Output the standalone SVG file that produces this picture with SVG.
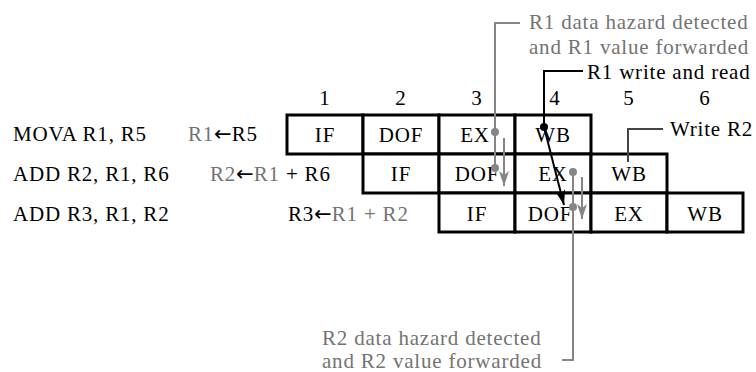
<svg xmlns="http://www.w3.org/2000/svg" width="756" height="372" viewBox="0 0 756 372">
<style>
text{font-family:"Liberation Serif",Tinos,"Times New Roman",Times,serif;font-size:21px;letter-spacing:0.8px;fill:#000}
.g{fill:#737373}
.ar{font-family:"DejaVu Sans",sans-serif;font-size:21px;letter-spacing:0}
.mid{text-anchor:middle}
.box{fill:#fff;stroke:#000;stroke-width:3}
.gl{stroke:#858585;stroke-width:2;fill:none}
.bl{stroke:#000;stroke-width:2;fill:none}
.gd{fill:#858585}
</style>
<defs>
<marker id="ga" markerUnits="userSpaceOnUse" markerWidth="16" markerHeight="12" refX="15" refY="5" orient="auto" viewBox="0 0 16 10">
<path d="M0,0 L15,5 L0,10 L4,5 Z" fill="#858585"/>
</marker>
<marker id="ba" markerUnits="userSpaceOnUse" markerWidth="16" markerHeight="12" refX="15" refY="5" orient="auto" viewBox="0 0 16 10">
<path d="M0,0 L15,5 L0,10 L4,5 Z" fill="#000"/>
</marker>
</defs>

<g id="cycle-numbers">
<text x="325" y="105" class="mid">1</text>
<text x="401" y="105" class="mid">2</text>
<text x="477" y="105" class="mid">3</text>
<text x="555" y="105" class="mid">4</text>
<text x="629" y="105" class="mid">5</text>
<text x="705" y="105" class="mid">6</text>
</g>

<g id="instr-labels">
<text x="13" y="141">MOVA R1, R5</text>
<text x="13" y="181">ADD R2, R1, R6</text>
<text x="13" y="221">ADD R3, R1, R2</text>
<text x="188" y="141"><tspan class="g">R1</tspan><tspan class="ar">←</tspan>R5</text>
<text x="210" y="181"><tspan class="g">R2</tspan><tspan class="ar">←</tspan><tspan class="g">R1</tspan> + R6</text>
<text x="288" y="221">R3<tspan class="ar">←</tspan><tspan class="g">R1 + R2</tspan></text>
</g>

<g id="row1">
<rect class="box" x="287" y="115" width="76" height="39"/>
<rect class="box" x="363" y="115" width="76" height="39"/>
<rect class="box" x="439" y="115" width="76" height="39"/>
<rect class="box" x="515" y="115" width="76" height="39"/>
<text x="325" y="142" class="mid">IF</text>
<text x="401" y="142" class="mid">DOF</text>
<text x="475" y="142" class="mid">EX</text>
<text x="553" y="142" class="mid">WB</text>
</g>
<g id="row2">
<rect class="box" x="363" y="154" width="76" height="39"/>
<rect class="box" x="439" y="154" width="76" height="39"/>
<rect class="box" x="515" y="154" width="76" height="39"/>
<rect class="box" x="591" y="154" width="76" height="39"/>
<text x="401" y="181" class="mid">IF</text>
<text x="477" y="181" class="mid">DOF</text>
<text x="553" y="181" class="mid">EX</text>
<text x="629" y="181" class="mid">WB</text>
</g>
<g id="row3">
<rect class="box" x="439" y="193" width="76" height="39"/>
<rect class="box" x="515" y="193" width="76" height="39"/>
<rect class="box" x="591" y="193" width="76" height="39"/>
<rect class="box" x="667" y="193" width="76" height="39"/>
<text x="477" y="221" class="mid">IF</text>
<text x="550" y="221" class="mid">DOF</text>
<text x="629" y="221" class="mid">EX</text>
<text x="705" y="221" class="mid">WB</text>
</g>

<g id="annotations">
<text x="529" y="29" class="g">R1 data hazard detected</text>
<text x="529" y="54" class="g">and R1 value forwarded</text>
<text x="587" y="79">R1 write and read</text>
<text x="670" y="136">Write R2</text>
<text x="322" y="345" class="g">R2 data hazard detected</text>
<text x="322" y="368" class="g">and R2 value forwarded</text>
</g>

<g id="connectors">
<polyline class="gl" points="520,23 495,23 495,168"/>
<circle class="gd" cx="495" cy="132" r="4"/>
<circle class="gd" cx="495" cy="168" r="4"/>
<line class="gl" x1="504" y1="138" x2="504" y2="186" marker-end="url(#ga)"/>
<polyline class="bl" points="583,71 544,71 544,127"/>
<circle cx="544" cy="127" r="4" fill="#000"/>
<line class="bl" x1="544" y1="127" x2="564" y2="205" marker-end="url(#ba)"/>
<polyline class="bl" points="663,129 628,129 628,162" style="stroke:#444"/>
<polyline class="gl" points="573,172 573,360 562,360"/>
<circle class="gd" cx="573" cy="172" r="4"/>
<circle class="gd" cx="573" cy="207" r="4"/>
<line class="gl" x1="582" y1="177" x2="582" y2="219" marker-end="url(#ga)"/>
</g>
</svg>
